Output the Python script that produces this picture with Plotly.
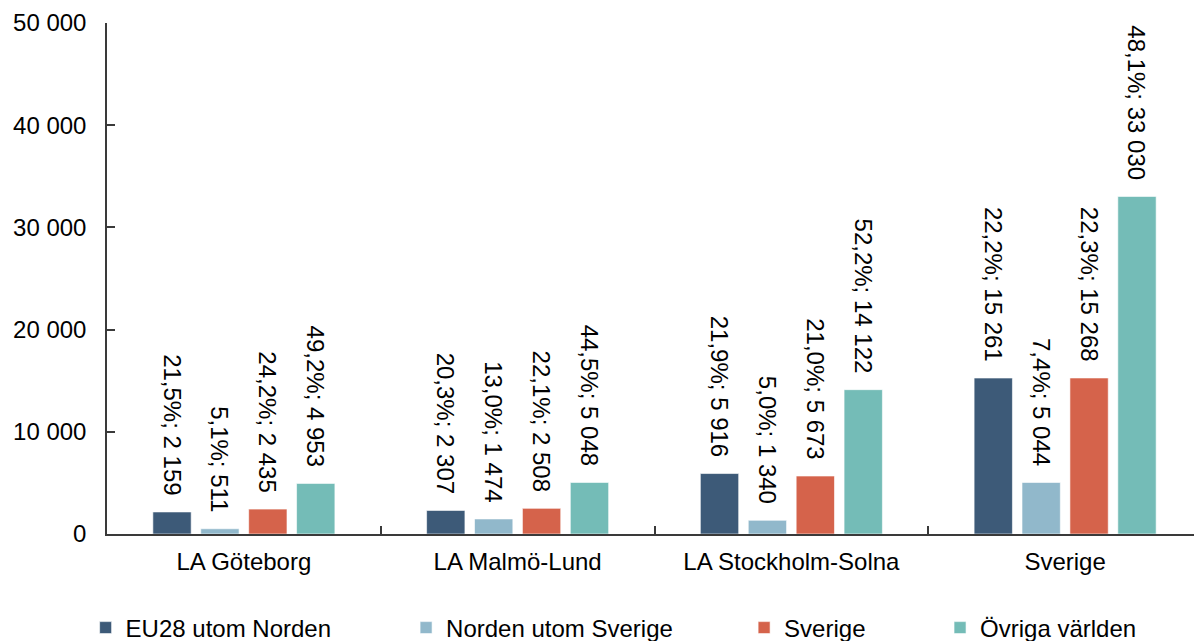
import plotly.graph_objects as go

categories = ["LA Göteborg", "LA Malmö-Lund", "LA Stockholm-Solna", "Sverige"]
series_names = ["EU28 utom Norden", "Norden utom Sverige", "Sverige", "Övriga världen"]
eu28 = [2159, 2307, 5916, 15261]
norden = [511, 1474, 1340, 5044]
sverige = [2435, 2508, 5673, 15268]
ovriga = [4953, 5048, 14122, 33030]
eu28_pct = [21.5, 20.3, 21.9, 22.2]
norden_pct = [5.1, 13.0, 5.0, 7.4]
sverige_pct = [24.2, 22.1, 21.0, 22.3]
ovriga_pct = [49.2, 44.5, 52.2, 48.1]
y_ticks = [0, 10000, 20000, 30000, 40000, 50000]

colors = ["#3D5A78", "#91B8CB", "#D5634B", "#74BCB7"]
values = [eu28, norden, sverige, ovriga]
pcts = [eu28_pct, norden_pct, sverige_pct, ovriga_pct]
legend_ids = ["legend", "legend2", "legend3", "legend4"]

FONT = "Liberation Sans, Arial, sans-serif"
FS = 24

fig = go.Figure()
for name, vals, pc, col, lg in zip(series_names, values, pcts, colors, legend_ids):
    fig.add_trace(go.Bar(
        name=name, x=categories, y=vals, customdata=pc,
        marker=dict(color=col, line=dict(color="rgba(255,255,255,0.6)", width=1)),
        texttemplate="%{customdata:.1f}%; %{y:,.0f}\u00a0\u00a0",
        textposition="outside", textangle=90, constraintext="none",
        cliponaxis=False,
        textfont=dict(family=FONT, size=FS, color="#000000"),
        legend=lg, showlegend=True, hoverinfo="skip",
    ))

axis_col = "#3A3A3A"
legend_common = dict(orientation="h", yanchor="middle", xanchor="left",
                     xref="container", yref="container",
                     font=dict(family=FONT, size=FS, color="#000000"),
                     bgcolor="rgba(0,0,0,0)", visible=True)
leg_x = [0.0650, 0.3334, 0.6165, 0.7806]
leg_y = 0.0205

# the page body has an 8px margin, so the figure is 8px smaller than the window
fig.update_layout(
    width=1194, height=633,
    margin=dict(l=99, r=0, t=15, b=107, autoexpand=False),
    paper_bgcolor="white", plot_bgcolor="white",
    separators=", ",
    showlegend=True,
    font=dict(family=FONT, size=FS, color="#000000"),
    barmode="group", bargap=0.3, bargroupgap=0.2,
    legend=dict(x=leg_x[0], y=leg_y, **legend_common),
    legend2=dict(x=leg_x[1], y=leg_y, **legend_common),
    legend3=dict(x=leg_x[2], y=leg_y, **legend_common),
    legend4=dict(x=leg_x[3], y=leg_y, **legend_common),
    xaxis=dict(
        type="category", showline=True, linecolor=axis_col, linewidth=1.5,
        ticks="inside", ticklen=8, tickcolor=axis_col, tickwidth=1.5,
        tickson="boundaries", showgrid=False, zeroline=False,
        ticklabelstandoff=5, automargin=False,
        tickfont=dict(family=FONT, size=FS, color="#000000"),
    ),
    yaxis=dict(
        range=[0, 50000], tickvals=y_ticks, tickformat=",d",
        showline=True, linecolor=axis_col, linewidth=1.5,
        ticks="inside", ticklen=8, tickcolor=axis_col, tickwidth=1.5,
        showgrid=False, zeroline=False, ticklabelstandoff=14,
        automargin=False,
        tickfont=dict(family=FONT, size=FS, color="#000000"),
    ),
)

fig.write_html("out.html")
